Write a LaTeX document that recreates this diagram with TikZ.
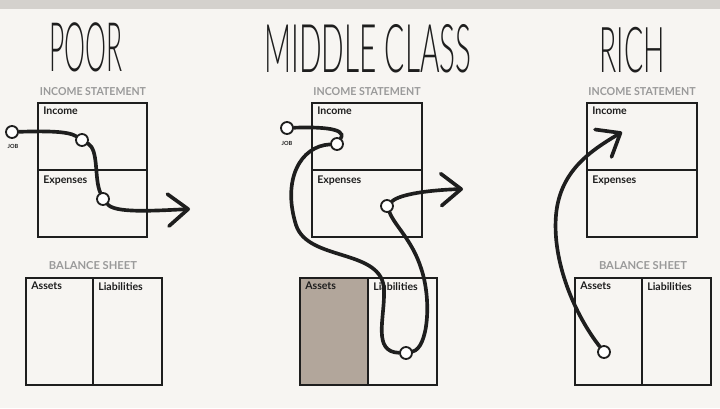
\documentclass[tikz,border=0pt]{standalone}
\usepackage{fontspec}
\setmainfont{Lato}
\newfontfamily\titlefont{Lato Light}
\usetikzlibrary{arrows.meta}
\definecolor{paper}{HTML}{F7F5F2}
\definecolor{edgegray}{HTML}{D4D1CD}
\definecolor{ink}{HTML}{1E1E1E}
\definecolor{capgray}{HTML}{9A9A9A}
\definecolor{assetfill}{HTML}{B2A69B}

\begin{document}
\begin{tikzpicture}[x=0.025cm,y=-0.025cm,
  heading/.style={inner sep=0pt,text=ink,font=\titlefont},
  caption/.style={inner sep=0pt,text=capgray,font=\bfseries},
  field/.style={anchor=north west,inner sep=0pt,text=ink,font=\fontsize{7.5}{8}\selectfont\bfseries},
  joblabel/.style={inner sep=0pt,text=ink,font=\fontsize{4}{5}\selectfont\bfseries},
  sheet/.style={draw=ink,line width=1.3pt},
  dot/.style={circle,draw=ink,fill=white,line width=1.3pt,inner sep=0pt,minimum size=0.3cm},
  flow/.style={draw=ink,line width=2.6pt,line cap=round},
  flowarrow/.style={flow,-{Straight Barb[length=5mm,width=8mm,round]}}
]
\fill[paper] (0,0) rectangle (720,408);
\fill[edgegray] (0,0) rectangle (720,9);
\useasboundingbox (0,0) rectangle (720,408);

\node[heading] (poor)   at (86,47)  {\resizebox{1.83cm}{1.22cm}{POOR}};
\node[heading] (middle) at (368,49) {\resizebox{5.18cm}{1.2cm}{MIDDLE CLASS}};
\node[heading] (rich)   at (632,50) {\resizebox{1.63cm}{1.13cm}{RICH}};

\node[caption] (pis) at (93,92)  {\resizebox{2.65cm}{0.2cm}{INCOME STATEMENT}};
\node[caption] (mis) at (367,92) {\resizebox{2.68cm}{0.2cm}{INCOME STATEMENT}};
\node[caption] (ris) at (642,92) {\resizebox{2.68cm}{0.2cm}{INCOME STATEMENT}};
\node[caption] (pbs) at (93,266)  {\resizebox{2.2cm}{0.2cm}{BALANCE SHEET}};
\node[caption] (rbs) at (643,266) {\resizebox{2.2cm}{0.2cm}{BALANCE SHEET}};

\fill[assetfill] (300,278) rectangle (368,385);
\draw[sheet] (38,103) rectangle (147,237) (38,170) -- (147,170);
\draw[sheet] (312,103) rectangle (422,237) (312,170) -- (422,170);
\draw[sheet] (587,103) rectangle (697,237) (587,170) -- (697,170);
\draw[sheet] (26,278) rectangle (162,385) (93,278) -- (93,385);
\draw[sheet] (300,278) rectangle (437,385) (368,278) -- (368,385);
\draw[sheet] (575,278) rectangle (711,385) (642,278) -- (642,385);

\node[field] (pinc) at (43,107) {Income};
\node[field] (pexp) at (43,176) {Expenses};
\node[field] (pass) at (31,282) {Assets};
\node[field] (plia) at (98,282) {Liabilities};
\node[field] (minc) at (317,107) {Income};
\node[field] (mexp) at (317,176) {Expenses};
\node[field] (mass) at (305,282) {Assets};
\node[field] (mlia) at (373,282) {Liabilities};
\node[field] (rinc) at (592,107) {Income};
\node[field] (rexp) at (592,176) {Expenses};
\node[field] (rass) at (580,282) {Assets};
\node[field] (rlia) at (647,282) {Liabilities};

\node[dot] (pjob) at (12,132) {};
\node[dot] (pa) at (82,140) {};
\node[dot] (pb) at (103,199) {};
\coordinate (pend) at (190,209);
\node[joblabel] (pjobtxt) at (13,146) {JOB};

\node[dot] (mjob) at (287,128) {};
\node[dot] (ma) at (337,144) {};
\node[dot] (mb) at (406,353) {};
\node[dot] (mc) at (387,206) {};
\coordinate (mend) at (463,189);
\node[joblabel] (mjobtxt) at (287,143) {JOB};

\node[dot] (rdot) at (604,352) {};
\coordinate (rend) at (622,132);

\draw[flow] (pjob) .. controls (45,131) and (68,131) .. (pa);
\draw[flow] (pa) .. controls (99,150) and (94,178) .. (pb);
\draw[flowarrow] (pb) .. controls (115,213) and (150,211) .. (pend);

\draw[flow] (mjob) .. controls (312,127) and (348,127) .. (ma);
\draw[flow] (ma) .. controls (300,146) and (282,180) .. (296,225) .. controls (308,262) and (383,248) .. (384,290) .. controls (385,318) and (372,352) .. (mb);
\draw[flow] (mb) .. controls (428,348) and (432,300) .. (421,268) .. controls (412,240) and (395,226) .. (mc);
\draw[flowarrow] (mc) .. controls (400,194) and (430,190) .. (mend);

\draw[flowarrow] (rdot) .. controls (575,315) and (552,262) .. (556,215) .. controls (560,170) and (592,150) .. (rend);
\end{tikzpicture}
\end{document}
